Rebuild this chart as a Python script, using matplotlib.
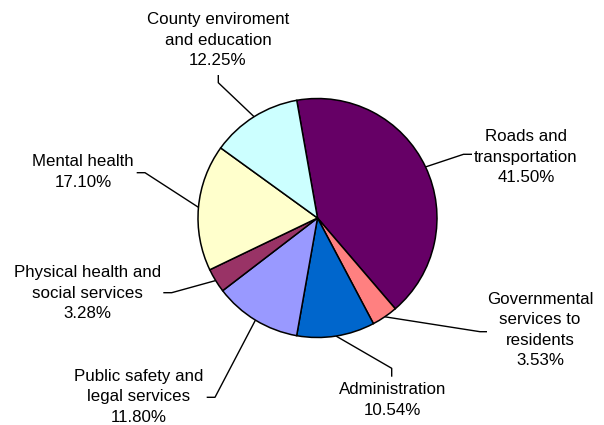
import matplotlib
matplotlib.use("Agg")
import matplotlib.pyplot as plt
import numpy as np

categories = ["Roads and\ntransportation", "Governmental\nservices to\nresidents",
              "Administration", "Public safety and\nlegal services",
              "Physical health and\nsocial services", "Mental health",
              "County enviroment\nand education"]
values = [41.50, 3.53, 10.54, 11.80, 3.28, 17.10, 12.25]
colors = ["#660066", "#FF8080", "#0066CC", "#9999FF", "#993366", "#FFFFCC", "#CCFFFF"]

W, H = 604, 425
# layout (pixel coords, y measured from top)
center_px = (317.5, 218.0)
radius_px = 119.5
label_pos = [(526, 157), (540, 330), (392.5, 400), (138.5, 397),
             (87.5, 293), (83, 172), (218, 40)]
# leader line: elbow point then end point (near label)
leader_pts = [[(463.5, 154.3), (472, 154.3)],
              [(480, 331.7), (487, 331.7)],
              [(391.7, 368.3), (391.7, 376.7)],
              [(215, 397.3), (206.7, 397.3)],
              [(171.7, 292.7), (163.3, 292.7)],
              [(145, 172.7), (136.7, 172.7)],
              [(218.3, 82.7), (218.3, 75)]]

plt.rcParams['font.family'] = ['Liberation Sans', 'DejaVu Sans']
fig = plt.figure(figsize=(W / 100, H / 100), dpi=100)
ax = fig.add_axes([0, 0, 1, 1])

cx, cy = center_px[0], H - center_px[1]
wedges, _ = ax.pie(values, colors=colors, startangle=100, counterclock=False,
                   center=(cx, cy), radius=radius_px, frame=True,
                   wedgeprops=dict(edgecolor='black', linewidth=1.1))
ax.set_xlim(0, W)
ax.set_ylim(0, H)
ax.set_aspect('equal')
ax.axis('off')

for w, v, lab, (lx, ly), pts in zip(wedges, values, categories, label_pos, leader_pts):
    mid = np.deg2rad((w.theta1 + w.theta2) / 2)
    ex = cx + radius_px * np.cos(mid)
    ey = cy + radius_px * np.sin(mid)
    xs = [ex] + [p[0] for p in pts]
    ys = [ey] + [H - p[1] for p in pts]
    ax.plot(xs, ys, color='black', linewidth=1.0, solid_capstyle='butt', zorder=0)
    ax.text(lx, H - ly, f"{lab}\n{v:.2f}%", ha='center', va='center',
            fontsize=12.2, linespacing=1.45, color='black')

fig.savefig("out.png", dpi=100)
